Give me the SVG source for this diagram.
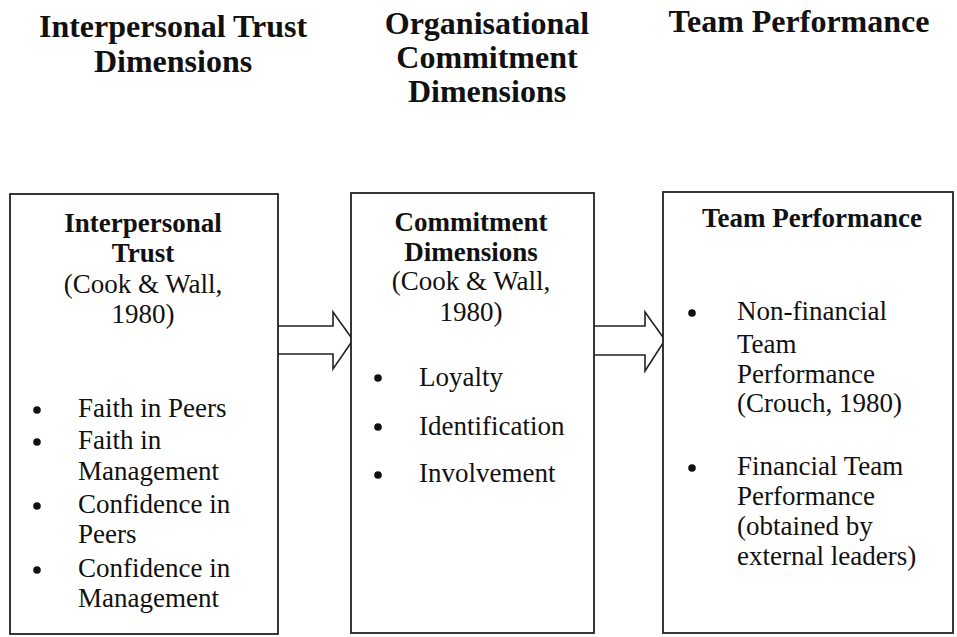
<svg xmlns="http://www.w3.org/2000/svg" width="957" height="637" viewBox="0 0 957 637">
<style>
.h{font-family:"Liberation Serif","Times New Roman",serif;font-weight:bold;font-size:32px;fill:#111;text-anchor:middle}
.b{font-family:"Liberation Serif","Times New Roman",serif;font-weight:bold;font-size:27px;fill:#111;text-anchor:middle}
.t{font-family:"Liberation Serif","Times New Roman",serif;font-size:27px;fill:#111}
.c{text-anchor:middle}
.box{fill:#fff;stroke:#222;stroke-width:1.8}
.arr{fill:#fff;stroke:#222;stroke-width:1.6;stroke-linejoin:miter}
.dot{fill:#111}
</style>
<rect width="957" height="637" fill="#fff"/>
<g id="headers">
<text class="h" x="173" y="37">Interpersonal Trust</text>
<text class="h" x="173" y="72">Dimensions</text>
<text class="h" x="487" y="34">Organisational</text>
<text class="h" x="487" y="68">Commitment</text>
<text class="h" x="487" y="102">Dimensions</text>
<text class="h" x="799" y="32">Team Performance</text>
</g>
<g id="connectors">
<path class="arr" d="M278,326 H333 V312 L353,340 L333,369 V354 H278"/>
<path class="arr" d="M594,326 H645 V312 L665,340 L645,371 V355 H594"/>
</g>
<g id="node-trust">
<rect class="box" x="10" y="194" width="268" height="440"/>
<text class="b" x="143" y="232">Interpersonal</text>
<text class="b" x="143" y="262">Trust</text>
<text class="t c" x="143" y="293">(Cook &amp; Wall,</text>
<text class="t c" x="143" y="323">1980)</text>
<circle class="dot" cx="37" cy="410" r="3.8"/>
<circle class="dot" cx="37" cy="442" r="3.8"/>
<circle class="dot" cx="37" cy="506" r="3.8"/>
<circle class="dot" cx="37" cy="570" r="3.8"/>
<text class="t" x="78" y="417">Faith in Peers</text>
<text class="t" x="78" y="449">Faith in</text>
<text class="t" x="78" y="480">Management</text>
<text class="t" x="78" y="513">Confidence in</text>
<text class="t" x="78" y="543">Peers</text>
<text class="t" x="78" y="577">Confidence in</text>
<text class="t" x="78" y="607">Management</text>
</g>
<g id="node-commitment">
<rect class="box" x="351" y="193" width="243" height="440"/>
<text class="b" x="471" y="231">Commitment</text>
<text class="b" x="471" y="261">Dimensions</text>
<text class="t c" x="471" y="290">(Cook &amp; Wall,</text>
<text class="t c" x="471" y="321">1980)</text>
<circle class="dot" cx="378" cy="378" r="3.8"/>
<circle class="dot" cx="378" cy="427" r="3.8"/>
<circle class="dot" cx="378" cy="475" r="3.8"/>
<text class="t" x="419" y="386">Loyalty</text>
<text class="t" x="419" y="435">Identification</text>
<text class="t" x="419" y="482">Involvement</text>
</g>
<g id="node-performance">
<rect class="box" x="663" y="192" width="290" height="441"/>
<text class="b" x="812" y="227">Team Performance</text>
<circle class="dot" cx="692" cy="313" r="3.8"/>
<circle class="dot" cx="692" cy="468" r="3.8"/>
<text class="t" x="737" y="320">Non-financial</text>
<text class="t" x="737" y="353">Team</text>
<text class="t" x="737" y="383">Performance</text>
<text class="t" x="737" y="412">(Crouch, 1980)</text>
<text class="t" x="737" y="475">Financial Team</text>
<text class="t" x="737" y="505">Performance</text>
<text class="t" x="737" y="535">(obtained by</text>
<text class="t" x="737" y="565">external leaders)</text>
</g>
</svg>
